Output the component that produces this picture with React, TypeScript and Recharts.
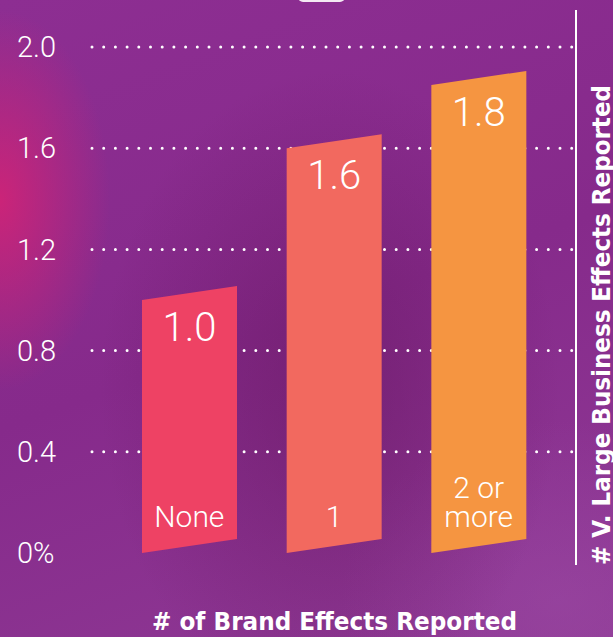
import React from "react";
import {
  BarChart,
  Bar,
  XAxis,
  YAxis,
  CartesianGrid,
  Cell,
  LabelList,
  Customized,
} from "recharts";

const categories = ["None", "1", "2 or\nmore"];
const values = [1.0, 1.6, 1.85];
const valueLabels = ["1.0", "1.6", "1.8"];
const barColors = ["#ee4264", "#f2695f", "#f59541"];
const yTicks = [0, 0.4, 0.8, 1.2, 1.6, 2.0];
const gridValues = [0.4, 0.8, 1.2, 1.6, 2.0];

const data = categories.map((cat, i) => ({
  cat,
  value: values[i],
  label: valueLabels[i],
}));

const W = 613;
const H = 637;
const SKEW = 14;
const LIGHT = "Roboto, 'DejaVu Sans', sans-serif";
const BOLD = "'DejaVu Sans Condensed', 'DejaVu Sans', sans-serif";

// parallelogram bar: right edge sits a bit higher than the left
const SlantBar = (props: any) => {
  const { x, y, width, height, fill } = props;
  const pts = [
    [x, y],
    [x + width, y - SKEW],
    [x + width, y + height - SKEW],
    [x, y + height],
  ]
    .map((p) => p.join(","))
    .join(" ");
  return <polygon points={pts} fill={fill} />;
};

const CatTick = (props: any) => {
  const { x, y, payload } = props;
  const lines = String(payload.value).split("\n");
  return (
    <g>
      {lines.map((l, i) => (
        <text
          key={i}
          x={x}
          y={y - 26 - (lines.length - 1 - i) * 29}
          textAnchor="middle"
          fill="#fff"
          fontFamily={LIGHT}
          fontWeight={300}
          fontSize={30}
        >
          {l}
        </text>
      ))}
    </g>
  );
};

const ValueLabel = (props: any) => {
  const { x, y, width, index } = props;
  return (
    <text
      x={x + width / 2}
      y={y + 41}
      textAnchor="middle"
      fill="#fff"
      fontFamily={LIGHT}
      fontWeight={300}
      fontSize={40}
    >
      {valueLabels[index]}
    </text>
  );
};

const Decor = () => (
  <g>
    <rect x={298} y={-12} width={47} height={14} rx={5} fill="#f4e9f3" />
    <line x1={576} y1={10} x2={576} y2={565} stroke="#fff" strokeWidth={2} />
    <text
      x={610}
      y={325}
      transform="rotate(-90, 610, 325)"
      textAnchor="middle"
      fill="#fff"
      fontFamily={BOLD}
      fontWeight={700}
      fontSize={25}
      textLength={480}
      lengthAdjust="spacingAndGlyphs"
    >
      # V. Large Business Effects Reported
    </text>
    <text
      x={334.5}
      y={630}
      textAnchor="middle"
      fill="#fff"
      fontFamily={BOLD}
      fontWeight={700}
      fontSize={25}
      textLength={365}
      lengthAdjust="spacingAndGlyphs"
    >
      # of Brand Effects Reported
    </text>
  </g>
);

export default function App() {
  return (
    <div
      style={{
        position: "absolute",
        left: 0,
        top: 0,
        width: W,
        height: H,
        overflow: "hidden",
        background: [
          "radial-gradient(ellipse 110px 190px at 0px 200px, rgba(210,35,118,0.9), rgba(210,35,118,0) 100%)",
          "radial-gradient(ellipse 230px 320px at 330px 390px, rgba(95,18,85,0.45), rgba(95,18,85,0) 100%)",
          "radial-gradient(ellipse 220px 180px at 560px 600px, rgba(160,80,170,0.4), rgba(160,80,170,0) 100%)",
          "linear-gradient(160deg, #8d2e92 0%, #862a8b 50%, #8f3a95 100%)",
        ].join(", "),
      }}
    >
      <BarChart
        width={W}
        height={H}
        data={data}
        margin={{ top: 47, right: 37, bottom: 54, left: 0 }}
      >
        <CartesianGrid
          vertical={false}
          horizontalValues={gridValues}
          stroke="#fff"
          strokeWidth={3}
          strokeDasharray="0 11.7"
          strokeLinecap="round"
        />
        <XAxis
          dataKey="cat"
          height={30}
          axisLine={false}
          tickLine={false}
          tickSize={0}
          tickMargin={0}
          padding={{ left: 25, right: 25 }}
          tick={<CatTick />}
          interval={0}
        />
        <YAxis
          domain={[0, 2]}
          ticks={yTicks}
          width={92}
          axisLine={false}
          tickLine={false}
          tickSize={0}
          tickMargin={75}
          tick={{
            textAnchor: "start",
            fill: "#fff",
            fontSize: 29,
            fontFamily: LIGHT,
            fontWeight: 300,
          }}
          tickFormatter={(v: number) => (v === 0 ? "0%" : v.toFixed(1))}
        />
        <Bar
          dataKey="value"
          barSize={95}
          shape={<SlantBar />}
          isAnimationActive={false}
        >
          {data.map((_, i) => (
            <Cell key={i} fill={barColors[i]} />
          ))}
          <LabelList dataKey="label" content={<ValueLabel />} />
        </Bar>
        <Customized component={<Decor />} />
      </BarChart>
    </div>
  );
}
